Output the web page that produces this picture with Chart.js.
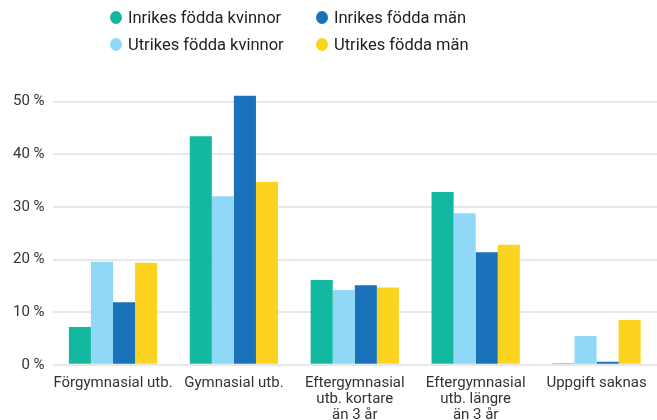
<!DOCTYPE html>
<html>
<head>
<meta charset="utf-8">
<script src="https://cdn.jsdelivr.net/npm/chart.js@4/dist/chart.umd.min.js"></script>
<style>
  html, body { margin: 0; padding: 0; background: #fff; }
  #wrap { position: relative; width: 657px; height: 420px; overflow: hidden; }
  #legend { position: absolute; left: 0; top: 0; width: 657px; height: 64px; font-family: Roboto, sans-serif; font-size: 16.5px; color: #222; z-index: 2; }
  .item { position: absolute; display: flex; align-items: center; white-space: nowrap; }
  .dot { width: 12px; height: 13px; border-radius: 50%; margin-right: 6px; }
  canvas { position: absolute; left: 0; top: 0; }
</style>
</head>
<body>
<div id="wrap">
  <div id="legend"></div>
  <canvas id="c" width="657" height="443"></canvas>
</div>
<script>
const categories = [
  "Förgymnasial utb.",
  "Gymnasial utb.",
  ["Eftergymnasial", "utb. kortare", "än 3 år"],
  ["Eftergymnasial", "utb. längre", "än 3 år"],
  "Uppgift saknas"
];
const seriesNames = ["Inrikes födda kvinnor", "Utrikes födda kvinnor", "Inrikes födda män", "Utrikes födda män"];
const inrikesKvinnor = [7.2, 43.4, 16.1, 32.8, 0.3];
const utrikesKvinnor = [19.6, 32.0, 14.2, 28.8, 5.5];
const inrikesMan = [11.9, 51.1, 15.1, 21.4, 0.6];
const utrikesMan = [19.4, 34.7, 14.7, 22.8, 8.5];
const yTicks = [0, 10, 20, 30, 40, 50];

const colors = ["#12b9a0", "#8fd8f7", "#1a72ba", "#fcd31f"];
const values = [inrikesKvinnor, utrikesKvinnor, inrikesMan, utrikesMan];

const legendPos = [
  {i: 0, left: 110, top: 8},
  {i: 2, left: 316, top: 8},
  {i: 1, left: 110, top: 35},
  {i: 3, left: 316, top: 35}
];
const legend = document.getElementById('legend');
legendPos.forEach(p => {
  const d = document.createElement('div');
  d.className = 'item';
  d.style.left = p.left + 'px';
  d.style.top = p.top + 'px';
  d.innerHTML = '<span class="dot" style="background:' + colors[p.i] + '"></span>' + seriesNames[p.i];
  legend.appendChild(d);
});

Chart.defaults.font.family = 'Roboto, sans-serif';
Chart.defaults.color = '#333';

new Chart(document.getElementById('c'), {
  type: 'bar',
  data: {
    labels: categories,
    datasets: values.map((v, k) => ({
      label: seriesNames[k],
      data: v,
      backgroundColor: colors[k],
      borderWidth: 0,
      categoryPercentage: 0.73,
      barPercentage: 1.0
    }))
  },
  options: {
    responsive: false,
    animation: false,
    layout: { padding: { top: 91, right: 0, left: 5, bottom: 10 } },
    plugins: { legend: { display: false }, tooltip: { enabled: false } },
    scales: {
      x: {
        grid: { display: false, drawTicks: false },
        border: { display: false },
        ticks: { font: { size: 15, lineHeight: 1.07 }, color: '#333', padding: 10, maxRotation: 0, autoSkip: false }
      },
      y: {
        min: 0, max: 52,
        afterBuildTicks: (axis) => { axis.ticks = yTicks.map(v => ({ value: v })); },
        grid: { color: '#e8e8e8', lineWidth: 2, drawTicks: false },
        border: { display: false },
        ticks: { font: { size: 15 }, color: '#333', padding: 8, callback: v => v + ' %' }
      }
    }
  }
});
</script>
</body>
</html>
